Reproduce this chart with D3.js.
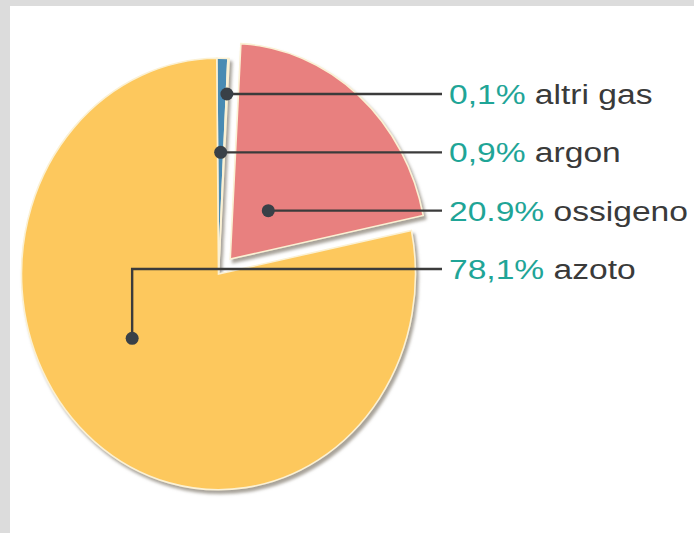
<!DOCTYPE html>
<html>
<head>
<meta charset="utf-8">
<script src="https://cdn.jsdelivr.net/npm/d3@7/dist/d3.min.js"></script>
<style>
  html, body { margin: 0; padding: 0; background: #dcdcdc; }
  svg { display: block; }
</style>
</head>
<body>
<script>
// Composition of dry air (percent by volume)
const categories = ["argon", "altri gas", "ossigeno", "azoto"];
const values = [0.9, 0.1, 20.9, 78.1];
const percentLabels = ["0,9%", "0,1%", "20.9%", "78,1%"];
// label rows, top to bottom
const labelOrder = ["altri gas", "argon", "ossigeno", "azoto"];

const colors = {
  "argon": "#4a8bb3",
  "altri gas": "#cdd98c",
  "ossigeno": "#e8807f",
  "azoto": "#fdc85d"
};

const W = 694, H = 533;
const cx = 218.5, cy = 274, R = 197, squash = 1.095;
const explode = { "ossigeno": 18 };
const deg = Math.PI / 180;

const svg = d3.select("body").append("svg")
  .attr("width", W).attr("height", H);

// white panel inside the grey frame
svg.append("rect").attr("x", 10).attr("y", 6)
  .attr("width", W - 10).attr("height", H - 6).attr("fill", "#ffffff");

const defs = svg.append("defs");
const shadow = defs.append("filter").attr("id", "shade")
  .attr("x", "-10%").attr("y", "-10%").attr("width", "130%").attr("height", "130%");
shadow.append("feDropShadow").attr("dx", 2.5).attr("dy", 3.5)
  .attr("stdDeviation", 1.6).attr("flood-color", "#8a8478").attr("flood-opacity", 0.75);

const pie = d3.pie().sort(null).value(d => d.value)
  .startAngle(-0.5 * deg).endAngle(359.5 * deg);
const data = categories.map((c, i) => ({ name: c, value: values[i], pct: percentLabels[i] }));
const arcs = pie(data);
const arc = d3.arc().innerRadius(0).outerRadius(R);

// offset of a slice pulled out from the centre (screen space)
function offset(a) {
  const e = explode[a.data.name] || 0;
  const m = (a.startAngle + a.endAngle) / 2;
  return [e * Math.sin(m), -e * Math.cos(m) * squash];
}

const pieG = svg.append("g").attr("filter", "url(#shade)");
pieG.selectAll("path").data(arcs).join("path")
  .attr("transform", a => {
    const o = offset(a);
    return `translate(${cx + o[0]},${cy + o[1]}) scale(1,${squash})`;
  })
  .attr("d", arc)
  .attr("fill", a => colors[a.data.name])
  .attr("stroke", "#fbf1d4")
  .attr("stroke-width", 1.6)
  .attr("vector-effect", "non-scaling-stroke");

// label rows
const rowY = d3.scalePoint().domain(labelOrder).range([94, 269]);
const lineEnd = 442, textX = 449;

// anchor point for each slice's marker
function anchor(a) {
  const o = offset(a);
  const name = a.data.name;
  if (name === "azoto") {
    const t = a.startAngle + 0.56 * (a.endAngle - a.startAngle);
    const r = 0.53 * R;
    return [cx + o[0] + r * Math.sin(t), cy + o[1] - r * Math.cos(t) * squash];
  }
  // point on the slice's mid-angle ray at the height of its label row
  const m = (a.startAngle + a.endAngle) / 2;
  const y = rowY(name);
  const dy = (cy + o[1] - y) / squash;
  return [cx + o[0] + dy * Math.tan(m), y];
}

const lab = svg.append("g");
arcs.forEach(a => {
  const p = anchor(a);
  const y = rowY(a.data.name);
  const pts = a.data.name === "azoto"
    ? [[p[0], p[1]], [p[0], y], [lineEnd, y]]
    : [[p[0], p[1]], [lineEnd, y]];
  lab.append("path")
    .attr("d", d3.line()(pts))
    .attr("fill", "none").attr("stroke", "#3b3b3b").attr("stroke-width", 2.4);
  lab.append("circle").attr("cx", p[0]).attr("cy", p[1]).attr("r", 6.5)
    .attr("fill", "#394047");
  const t = lab.append("text")
    .attr("transform", `translate(${textX},${y}) scale(1.2,1)`)
    .attr("dy", "0.36em")
    .attr("font-family", "'Liberation Sans', Arial, Helvetica, sans-serif")
    .attr("font-size", 28);
  t.append("tspan").attr("fill", "#1fa597").text(a.data.pct);
  t.append("tspan").attr("fill", "#3a3a3a").text(" " + a.data.name);
});
</script>
</body>
</html>
